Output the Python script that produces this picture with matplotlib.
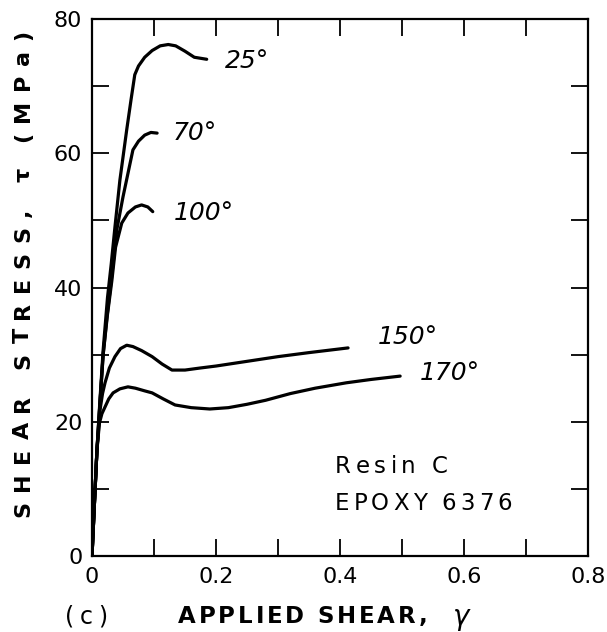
import matplotlib
matplotlib.use("Agg")
import matplotlib.pyplot as plt
from matplotlib.ticker import MultipleLocator, FuncFormatter

# ---- data (gamma, tau in MPa) ----
g25 = [0, 0.004, 0.008, 0.013, 0.018, 0.025, 0.031, 0.037, 0.045, 0.056, 0.063, 0.069, 0.075, 0.085, 0.097, 0.11, 0.123, 0.135, 0.15, 0.165, 0.185]
t25 = [0, 8, 15.8, 23.5, 30.7, 38.5, 43.5, 49, 56, 63.5, 68, 71.7, 73, 74.3, 75.3, 76, 76.2, 76, 75.2, 74.3, 74]
g70 = [0, 0.004, 0.008, 0.013, 0.018, 0.024, 0.031, 0.040, 0.05, 0.058, 0.066, 0.075, 0.085, 0.095, 0.105]
t70 = [0, 8, 15.8, 23, 30, 35.5, 41, 48.6, 53.5, 57, 60.5, 61.8, 62.7, 63.1, 63]
g100 = [0, 0.004, 0.008, 0.013, 0.018, 0.025, 0.032, 0.038, 0.048, 0.058, 0.07, 0.08, 0.09, 0.098]
t100 = [0, 8, 15.8, 23, 30, 36, 41, 46, 49.6, 51.1, 52, 52.3, 52, 51.3]
g150 = [0, 0.004, 0.008, 0.013, 0.017, 0.021, 0.028, 0.037, 0.046, 0.056, 0.066, 0.08, 0.097, 0.113, 0.129, 0.15, 0.174, 0.2, 0.25, 0.3, 0.35, 0.413]
t150 = [0, 8, 15.8, 21.8, 24.2, 25.8, 28.0, 29.7, 30.9, 31.4, 31.2, 30.6, 29.7, 28.6, 27.7, 27.7, 28.0, 28.3, 29.0, 29.7, 30.3, 31.0]
g170 = [0, 0.004, 0.008, 0.012, 0.016, 0.021, 0.027, 0.034, 0.045, 0.058, 0.07, 0.085, 0.097, 0.115, 0.134, 0.16, 0.19, 0.22, 0.25, 0.28, 0.32, 0.36, 0.41, 0.45, 0.497]
t170 = [0, 8, 15.8, 19.8, 21.2, 22.2, 23.4, 24.3, 24.9, 25.2, 25.0, 24.6, 24.3, 23.4, 22.5, 22.1, 21.9, 22.1, 22.6, 23.2, 24.2, 25.0, 25.8, 26.3, 26.8]

curve_labels = ["25°", "70°", "100°", "150°", "170°"]
xticks = [0, 0.2, 0.4, 0.6, 0.8]
yticks = [0, 20, 40, 60, 80]

W, H = 607, 632
fig = plt.figure(figsize=(W / 100, H / 100), dpi=100)
AX_L, AX_R, AX_T, AX_B = 92, 588, 19, 556
ax = fig.add_axes([AX_L / W, 1 - AX_B / H, (AX_R - AX_L) / W, (AX_B - AX_T) / H])
renderer = fig.canvas.get_renderer()


def tracked(x0, yc, s, width, fontsize, rot=False, **kw):
    """Draw text s letter by letter (pixel coords from top-left), spread over width px."""
    ws = []
    for ch in s:
        if ch == " ":
            ws.append(0.32 * fontsize * 100 / 72)
        else:
            t = fig.text(0, 0, ch, fontsize=fontsize, **kw)
            ws.append(t.get_window_extent(renderer).width)
            t.remove()
    gap = max((width - sum(ws)) / max(len(s) - 1, 1), 0)
    cap = 0.73 * fontsize * 100 / 72
    pos = x0
    for ch, w in zip(s, ws):
        if ch != " ":
            if rot:
                fig.text((yc + cap / 2) / W, 1 - pos / H, ch, fontsize=fontsize, rotation=90,
                         rotation_mode="anchor", ha="left", va="baseline", **kw)
            else:
                fig.text(pos / W, 1 - (yc + cap / 2) / H, ch, fontsize=fontsize,
                         ha="left", va="baseline", **kw)
        pos = pos + (w + gap) * (-1 if rot else 1)


for g, t in [(g25, t25), (g70, t70), (g100, t100), (g150, t150), (g170, t170)]:
    ax.plot(g, t, color="black", lw=2.3, solid_capstyle="round", solid_joinstyle="round")

ax.set_xlim(0, 0.8)
ax.set_ylim(0, 80)
ax.set_xticks(xticks)
ax.set_yticks(yticks)
ax.xaxis.set_minor_locator(MultipleLocator(0.1))
ax.yaxis.set_minor_locator(MultipleLocator(10))
ax.tick_params(which="both", direction="in", top=True, right=True, width=1.3, length=12, labelsize=16)
ax.tick_params(axis="x", pad=8)
ax.tick_params(axis="y", pad=7)
ax.xaxis.set_major_formatter(FuncFormatter(lambda v, p: "0" if v == 0 else f"{v:.1f}"))
ax.yaxis.set_major_formatter(FuncFormatter(lambda v, p: f"{v:.0f}"))
for s in ax.spines.values():
    s.set_linewidth(1.6)

# curve labels (pixel positions from the picture)
lab_pos = [(225, 61), (173, 133), (174, 213), (378, 337), (420, 373)]
for lab, (px, py) in zip(curve_labels, lab_pos):
    fig.text(px / W, 1 - py / H, lab, fontsize=18, style="italic", ha="left", va="center")

tracked(335, 464.5, "Resin C", 113, 16.5)
tracked(335, 502, "EPOXY 6376", 177, 16.5)

# axis labels
tracked(517, 21, "SHEAR STRESS, τ (MPa)", 487, 16, rot=True, fontweight="bold")
tracked(65, 615, "(c)", 42, 17)
tracked(178, 615, "APPLIED SHEAR,", 249, 16.5, fontweight="bold")
tracked(453, 615, "γ", 24, 20, style="italic")

fig.savefig("out.png", dpi=100)
